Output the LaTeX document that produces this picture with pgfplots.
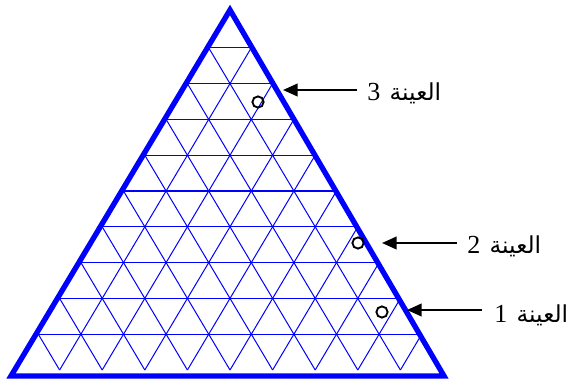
\documentclass[border=0pt]{standalone}
\usepackage{pgfplots}
\pgfplotsset{compat=1.18}
\usetikzlibrary{arrows.meta}
\usepackage{fontspec}
\setmainfont{Liberation Serif}
\newfontfamily\arabicfont[Script=Arabic]{DejaVu Sans}
\TeXXeTstate=1

% label: Arabic word + digit, right to left
\newcommand{\sample}[1]{\fontsize{19.5}{21}\selectfont\beginR{\arabicfont\fontsize{17.5}{20}\selectfont العينة}\hspace{7pt}#1\endR}

\begin{document}
\begin{tikzpicture}
\begin{axis}[
    width=15cm, height=10cm, scale only axis,
    xmin=0, xmax=570, ymin=0, ymax=380,
    y dir=reverse,
    hide axis, clip=false,
    unbounded coords=jump,
]
\path (rel axis cs:0,0) rectangle (rel axis cs:1,1);

% horizontal grid lines
\addplot[blue, line width=0.75pt] coordinates {
    (208.7,47.8) (251.3,47.8) (nan,nan)
    (187.4,83.6) (272.6,83.6) (nan,nan)
    (166.1,119.4) (293.9,119.4) (nan,nan)
    (144.8,155.2) (315.2,155.2) (nan,nan)
    (123.5,191) (336.5,191) (nan,nan)
    (102.2,226.8) (357.8,226.8) (nan,nan)
    (80.9,262.6) (379.1,262.6) (nan,nan)
    (59.6,298.4) (400.4,298.4) (nan,nan)
    (38.3,334.2) (421.7,334.2)
};
% lines parallel to the left side
\addplot[blue, line width=0.75pt] coordinates {
    (251.3,47.8) (59.6,370) (nan,nan)
    (272.6,83.6) (102.2,370) (nan,nan)
    (293.9,119.4) (144.8,370) (nan,nan)
    (315.2,155.2) (187.4,370) (nan,nan)
    (336.5,191) (230,370) (nan,nan)
    (357.8,226.8) (272.6,370) (nan,nan)
    (379.1,262.6) (315.2,370) (nan,nan)
    (400.4,298.4) (357.8,370) (nan,nan)
    (421.7,334.2) (400.4,370)
};
% lines parallel to the right side
\addplot[blue, line width=0.75pt] coordinates {
    (208.7,47.8) (400.4,370) (nan,nan)
    (187.4,83.6) (357.8,370) (nan,nan)
    (166.1,119.4) (315.2,370) (nan,nan)
    (144.8,155.2) (272.6,370) (nan,nan)
    (123.5,191) (230,370) (nan,nan)
    (102.2,226.8) (187.4,370) (nan,nan)
    (80.9,262.6) (144.8,370) (nan,nan)
    (59.6,298.4) (102.2,370) (nan,nan)
    (38.3,334.2) (59.6,370)
};

% outer triangle
\addplot[blue, line width=4pt, line join=miter] coordinates {
    (230,10) (444,376) (11,376) (230,10)
} -- cycle;

% samples
\addplot[only marks, mark=o, mark size=4.2pt, mark options={black, line width=1.4pt}]
    coordinates {(258,102) (358,243) (382,312)};

% arrows
\addplot[black, line width=1.5pt, -{Triangle[length=11pt,width=9.5pt]}]
    coordinates {(357,90) (283,90)};
\addplot[black, line width=1.5pt, -{Triangle[length=11pt,width=9.5pt]}]
    coordinates {(457,243) (382,243)};
\addplot[black, line width=1.5pt, -{Triangle[length=11pt,width=9.5pt]}]
    coordinates {(482,310) (407,310)};

\node[anchor=base west, inner sep=0pt] at (axis cs:367,100.5) {\sample{3}};
\node[anchor=base west, inner sep=0pt] at (axis cs:467,253) {\sample{2}};
\node[anchor=base west, inner sep=0pt] at (axis cs:494,322.5) {\sample{1}};
\end{axis}
\end{tikzpicture}
\end{document}
